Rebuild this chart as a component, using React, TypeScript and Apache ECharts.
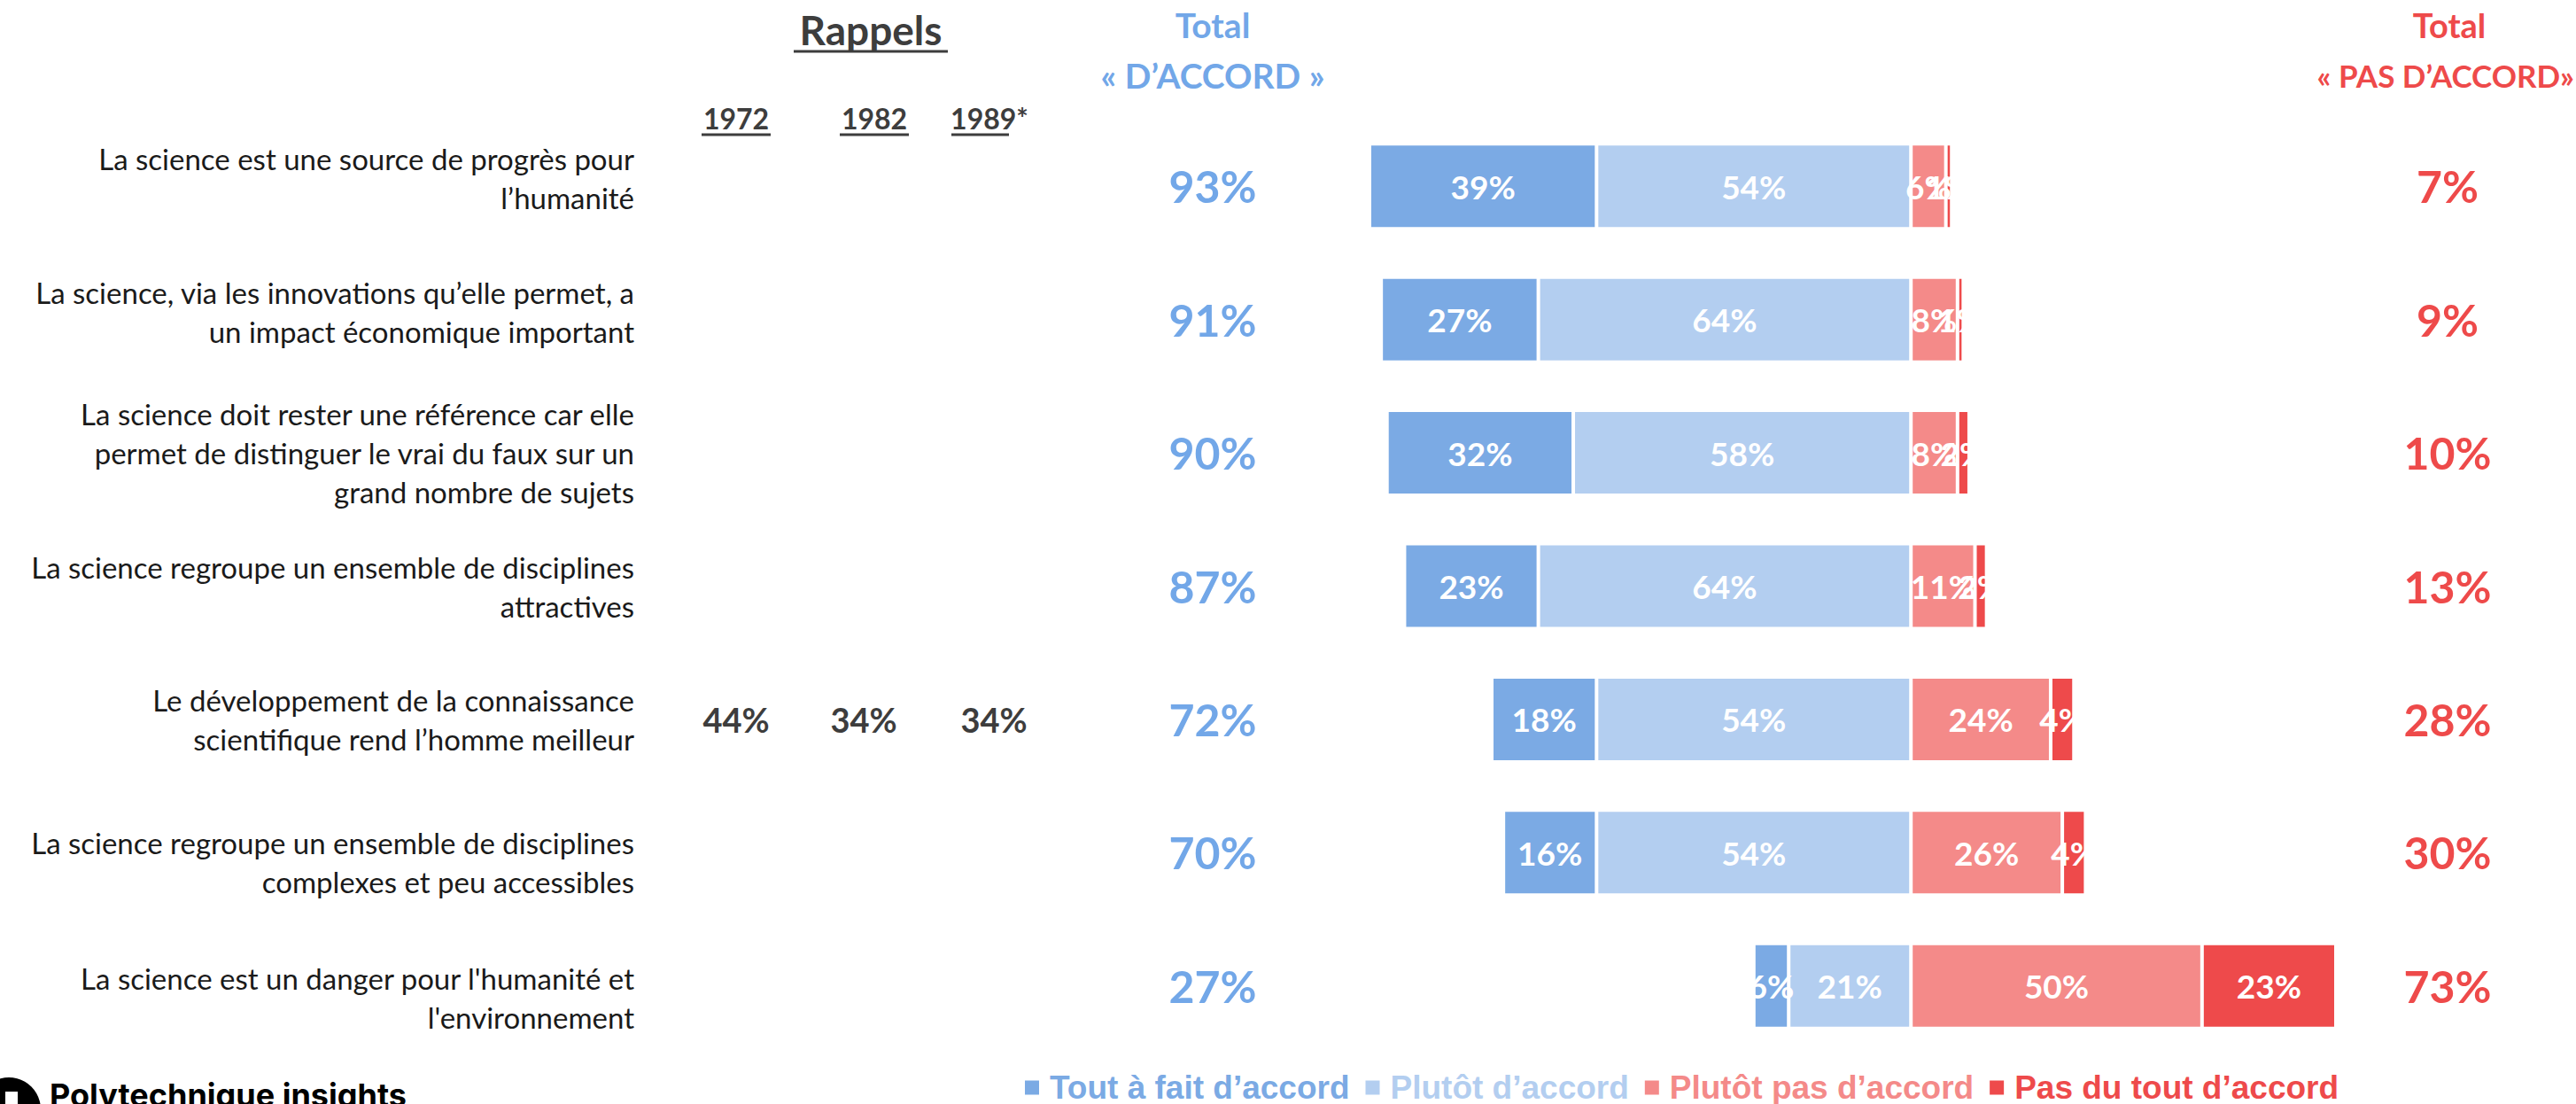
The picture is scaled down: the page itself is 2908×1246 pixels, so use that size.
import React, { useEffect, useRef } from "react";
import * as echarts from "echarts";

const statements = [
  "La science est une source de progrès pour\nl’humanité",
  "La science, via les innovations qu’elle permet, a\nun impact économique important",
  "La science doit rester une référence car elle\npermet de distinguer le vrai du faux sur un\ngrand nombre de sujets",
  "La science regroupe un ensemble de disciplines\nattractives",
  "Le développement de la connaissance\nscientifique rend l’homme meilleur",
  "La science regroupe un ensemble de disciplines\ncomplexes et peu accessibles",
  "La science est un danger pour l'humanité et\nl'environnement",
];
const toutAFait = [39, 27, 32, 23, 18, 16, 6];
const plutotDaccord = [54, 64, 58, 64, 54, 54, 21];
const plutotPas = [6, 8, 8, 11, 24, 26, 50];
const pasDuTout = [1, 1, 2, 2, 4, 4, 23];
const totalDaccord = [93, 91, 90, 87, 72, 70, 27];
const totalPasDaccord = [7, 9, 10, 13, 28, 30, 73];
const rappel1972 = [null, null, null, null, 44, null, null];
const rappel1982 = [null, null, null, null, 34, null, null];
const rappel1989 = [null, null, null, null, 34, null, null];
const rappelYears = ["1972", "1982", "1989*"];
const legendNames = [
  "Tout à fait d’accord",
  "Plutôt d’accord",
  "Plutôt pas d’accord",
  "Pas du tout d’accord",
];

const C_DARKBLUE = "#7BAAE4";
const C_LIGHTBLUE = "#B3CEF0";
const C_LIGHTRED = "#F48A89";
const C_RED = "#EE4A4B";
const C_TOTAL_BLUE = "#72A7E8";
const C_TOTAL_RED = "#EE4A4A";
const C_DARK = "#3d3d3d";

const GRID_LEFT = 1500;
const GRID_TOP = 135;
const GRID_W = 1183;
const GRID_H = 1053;
const GRID_RIGHT_X = GRID_LEFT + GRID_W;

// small vertical nudges of the statement labels (tag of a spacer line)
const labelNudge = ["up", "up", "", "", "", "dn", "dn2"];

function barSeries(name: string, values: number[], color: string, sign: number) {
  return {
    name,
    type: "bar",
    stack: "total",
    barWidth: 96,
    data: values.map((v) => v * sign),
    itemStyle: { color, borderColor: "#ffffff", borderWidth: 2 },
    label: {
      show: true,
      position: "inside",
      color: "#ffffff",
      fontFamily: "Lato",
      fontWeight: "bold",
      fontSize: 37,
      formatter: (p: any) => Math.abs(p.value) + "%",
    },
    emphasis: { disabled: true },
  };
}

function sideAxis(
  position: string,
  margin: number,
  formatter: (v: string, i: number) => string,
  color: string,
  fontSize: number
) {
  return {
    type: "category",
    data: statements,
    inverse: true,
    position,
    axisLine: { show: false },
    axisTick: { show: false },
    splitLine: { show: false },
    axisLabel: {
      interval: 0,
      margin,
      align: "center",
      formatter,
      color,
      fontFamily: "Lato",
      fontWeight: "bold",
      fontSize,
    },
  };
}

const fmtRappel = (arr: (number | null)[]) => (_v: string, i: number) =>
  arr[i] == null ? "" : arr[i] + "%";

const yearX = [831, 987, 1117];
const underlines = [
  [792, 870],
  [948, 1026],
  [1074, 1139],
];

function text(
  x: number,
  y: number,
  t: string,
  size: number,
  color: string,
  align = "center",
  family = "Lato",
  weight = "bold"
) {
  return {
    type: "text",
    x,
    y,
    style: {
      text: t,
      fontSize: size,
      fontFamily: family,
      fontWeight: weight,
      fill: color,
      align,
      textAlign: align,
      verticalAlign: "middle",
      textVerticalAlign: "middle",
    },
  };
}

function line(x1: number, x2: number, y: number, color: string, w: number) {
  return {
    type: "line",
    shape: { x1, y1: y, x2, y2: y },
    style: { stroke: color, lineWidth: w },
  };
}

const option: any = {
  animation: false,
  backgroundColor: "#ffffff",
  grid: {
    left: GRID_LEFT,
    top: GRID_TOP,
    width: GRID_W,
    height: GRID_H,
    containLabel: false,
    outerBoundsMode: "none",
  },
  xAxis: {
    type: "value",
    min: -100,
    max: 80,
    show: false,
    splitLine: { show: false },
  },
  yAxis: [
    {
      type: "category",
      data: statements,
      inverse: true,
      position: "left",
      axisLine: { show: false },
      axisTick: { show: false },
      splitLine: { show: false },
      axisLabel: {
        interval: 0,
        margin: GRID_LEFT - 716,
        align: "right",
        color: "#1a1a1a",
        fontFamily: "Lato",
        fontSize: 33,
        lineHeight: 44,
        formatter: (v: string, i: number) => {
          const n = labelNudge[i];
          if (n === "up") return v + "\n{up| }";
          if (n === "dn") return "{dn| }\n" + v;
          if (n === "dn2") return "{dn2| }\n" + v;
          return v;
        },
        rich: {
          up: { fontSize: 1, lineHeight: 18 },
          dn: { fontSize: 1, lineHeight: 22 },
          dn2: { fontSize: 1, lineHeight: 26 },
        },
      },
    },
    sideAxis("left", GRID_LEFT - 831, fmtRappel(rappel1972), C_DARK, 38),
    sideAxis("left", GRID_LEFT - 975, fmtRappel(rappel1982), C_DARK, 38),
    sideAxis("left", GRID_LEFT - 1122, fmtRappel(rappel1989), C_DARK, 38),
    sideAxis("left", GRID_LEFT - 1369, (_v, i) => totalDaccord[i] + "%", C_TOTAL_BLUE, 50),
    sideAxis("right", 2763 - GRID_RIGHT_X, (_v, i) => totalPasDaccord[i] + "%", C_TOTAL_RED, 50),
  ],
  legend: {
    left: 1150,
    top: 1204,
    icon: "rect",
    itemWidth: 18,
    itemHeight: 18,
    itemGap: 16,
    selectedMode: false,
    textStyle: {
      fontFamily: "Liberation Sans",
      fontWeight: "bold",
      fontSize: 37,
      lineHeight: 37,
      padding: [0, 0, 0, 6],
    },
    data: [
      { name: legendNames[0], textStyle: { color: C_DARKBLUE } },
      { name: legendNames[1], textStyle: { color: C_LIGHTBLUE } },
      { name: legendNames[2], textStyle: { color: C_LIGHTRED } },
      { name: legendNames[3], textStyle: { color: C_RED } },
    ],
  },
  series: [
    barSeries(legendNames[1], plutotDaccord, C_LIGHTBLUE, -1),
    barSeries(legendNames[0], toutAFait, C_DARKBLUE, -1),
    barSeries(legendNames[2], plutotPas, C_LIGHTRED, 1),
    barSeries(legendNames[3], pasDuTout, C_RED, 1),
  ],
  graphic: [
    text(983, 33, "Rappels", 46, C_DARK),
    line(896, 1070, 58, C_DARK, 3),
    ...rappelYears.map((y, i) => text(yearX[i], 133, y, 32, C_DARK)),
    ...underlines.map((u) => line(u[0], u[1], 152, C_DARK, 3)),
    text(1369, 28, "Total", 39, C_TOTAL_BLUE),
    text(1369, 85, "« D’ACCORD »", 39, C_TOTAL_BLUE),
    text(2765, 28, "Total", 38, C_TOTAL_RED),
    text(2906, 85, "« PAS D’ACCORD»", 35, C_TOTAL_RED, "right"),
    { type: "circle", shape: { cx: 10, cy: 1252, r: 36 }, style: { fill: "#000000" } },
    { type: "rect", shape: { x: 6, y: 1232, width: 14, height: 14 }, style: { fill: "#ffffff" } },
    text(56, 1236, "Polytechnique insights", 36, "#000000", "left", "Inter", "bold"),
  ],
};

export default function App() {
  const ref = useRef<HTMLDivElement>(null);
  useEffect(() => {
    const chart = echarts.init(ref.current!, null, { renderer: "svg" });
    chart.setOption(option);
    return () => chart.dispose();
  }, []);
  return (
    <div
      ref={ref}
      style={{ position: "fixed", left: 0, top: 0, width: 2908, height: 1246, background: "#fff" }}
    />
  );
}
